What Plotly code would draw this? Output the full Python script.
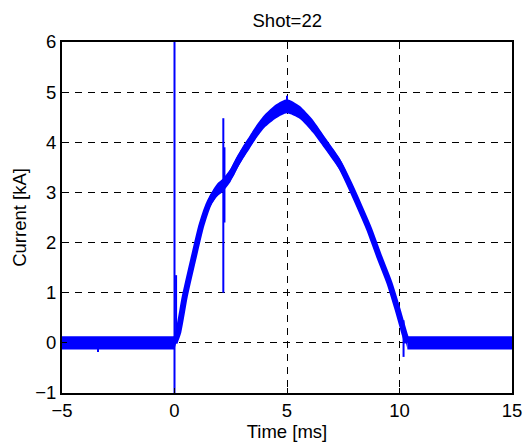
import plotly.graph_objects as go

# ---- data ----
# quiet baseline before and after the pulse
base_pre_t = [-5.0, 0.0]
base_pre_kA = [0.0, 0.0]
base_post_t = [10.35, 15.0]
base_post_kA = [0.0, 0.0]
base_halfwidth_kA = 0.13

# current pulse (centre of the noisy trace)
time_ms = [0.0, 0.16, 0.46, 0.83, 1.2, 1.57, 1.9, 2.16, 2.5, 2.75,
           3.05, 3.34, 3.7, 4.0, 4.52, 5.0, 5.56, 6.15, 6.74, 7.33, 7.77,
           8.22, 8.66, 9.1, 9.55, 9.92, 10.21, 10.35]
current_kA = [0.0, 0.2, 0.93, 1.66, 2.35, 2.82, 3.05, 3.15, 3.35, 3.57,
              3.8, 4.0, 4.25, 4.42, 4.62, 4.72, 4.6, 4.32, 3.95, 3.57, 3.17,
              2.72, 2.26, 1.72, 1.2, 0.66, 0.2, 0.0]
noise_halfwidth_kA = [0.12, 0.08, 0.06, 0.07, 0.1, 0.12, 0.13, 0.13, 0.13, 0.13,
                      0.13, 0.13, 0.13, 0.13, 0.14, 0.14, 0.13, 0.13, 0.12, 0.12, 0.11,
                      0.11, 0.1, 0.1, 0.09, 0.08, 0.08, 0.12]

# isolated spikes (time, low, high)
spike_t = [0.0, 0.07, 2.17, 2.22, 5.0, 10.18, -3.4]
spike_lo = [-1.0, 0.0, 1.0, 2.4, 4.6, -0.28, -0.18]
spike_hi = [6.0, 1.35, 4.48, 3.9, 4.93, 0.45, 0.0]

x_ticks = [-5, 0, 5, 10, 15]
y_ticks = [-1, 0, 1, 2, 3, 4, 5, 6]

BLUE = "#0000FF"
FONT = "Liberation Sans, Arial, Helvetica, sans-serif"
FS = 18.5

fig = go.Figure()


def band(t, c, hw, shape):
    up = [a + b for a, b in zip(c, hw)]
    lo = [a - b for a, b in zip(c, hw)]
    ln = dict(color=BLUE, width=0, shape=shape)
    if shape == "spline":
        ln["smoothing"] = 0.6
    fig.add_trace(go.Scatter(x=t, y=up, mode="lines", line=ln,
                             showlegend=False, hoverinfo="skip"))
    fig.add_trace(go.Scatter(x=t, y=lo, mode="lines", fill="tonexty",
                             fillcolor=BLUE, line=ln,
                             showlegend=False, hoverinfo="skip"))


band(base_pre_t, base_pre_kA, [base_halfwidth_kA] * len(base_pre_t), "linear")
band(base_post_t, base_post_kA, [base_halfwidth_kA] * len(base_post_t), "linear")
band(time_ms, current_kA, noise_halfwidth_kA, "spline")

fig.add_trace(go.Scatter(x=time_ms, y=current_kA, mode="lines",
                         line=dict(color=BLUE, width=6, shape="spline", smoothing=0.6),
                         showlegend=False))

sx, sy = [], []
for t, lo, hi in zip(spike_t, spike_lo, spike_hi):
    sx += [t, t, None]
    sy += [lo, hi, None]
fig.add_trace(go.Scatter(x=sx, y=sy, mode="lines",
                         line=dict(color=BLUE, width=2), showlegend=False))

axis_common = dict(
    showline=True, mirror=True, linecolor="black", linewidth=2,
    ticks="inside", ticklen=5, tickcolor="black", tickwidth=1,
    showgrid=True, gridcolor="black", gridwidth=1, griddash="7px,6px",
    zeroline=False, automargin=False,
    tickfont=dict(family=FONT, size=FS, color="black"),
)

fig.update_layout(
    width=530, height=443,
    margin=dict(l=62, r=18, t=42, b=50),
    paper_bgcolor="white", plot_bgcolor="white",
    title=dict(text="Shot=22", x=0.542, xanchor="center",
               y=1 - 21 / 443, yanchor="middle", yref="container",
               font=dict(family=FONT, size=FS, color="black")),
    xaxis=dict(range=[-5, 15], tickvals=x_ticks,
               title=dict(text="Time [ms]", standoff=1,
                          font=dict(family=FONT, size=FS, color="black")),
               **axis_common),
    yaxis=dict(range=[-1, 6], tickvals=y_ticks,
               title=dict(text="Current [kA]", standoff=4,
                          font=dict(family=FONT, size=FS, color="black")),
               **axis_common),
)

fig.write_html("out.html")
